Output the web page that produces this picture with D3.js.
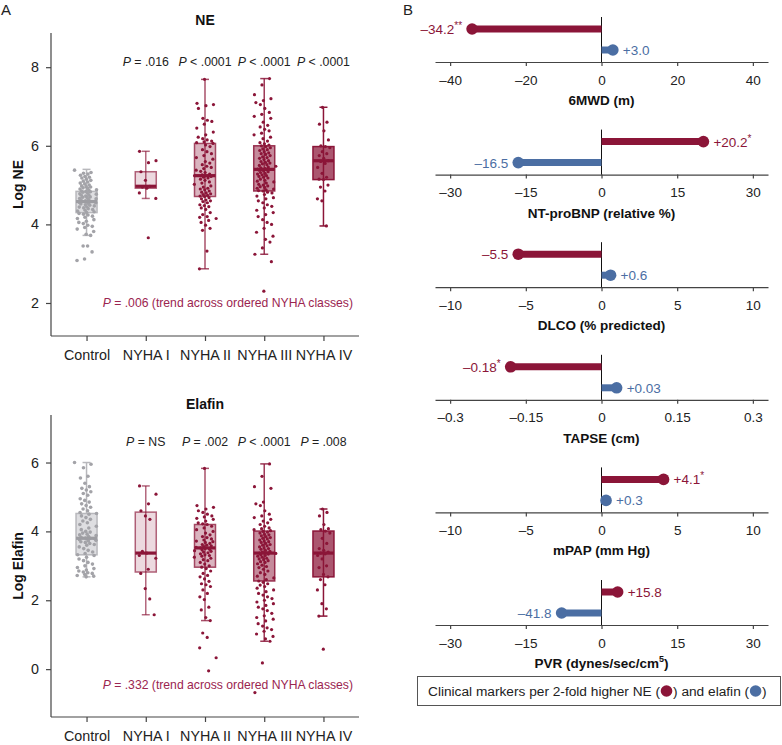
<!DOCTYPE html>
<html>
<head>
<meta charset="utf-8">
<script src="https://cdn.jsdelivr.net/npm/d3@7"></script>
<style>
  body { margin: 0; background: #fff; }
  svg { font-family: "Liberation Sans", Arial, sans-serif; }
</style>
</head>
<body>
<svg id="chart" width="782" height="745"></svg>
<script>
// ---------- data: panel A ----------
const groups = ["Control", "NYHA I", "NYHA II", "NYHA III", "NYHA IV"]

// box stats: [low whisker, q1, median, q3, high whisker]
const neBoxes = [
  [3.72, 4.30, 4.58, 4.84, 5.40],
  [4.66, 4.92, 4.97, 5.34, 5.86],
  [2.87, 4.71, 5.24, 6.06, 7.69],
  [3.24, 4.85, 5.40, 6.00, 7.71],
  [3.96, 5.14, 5.62, 5.98, 6.98]
]
const elafinBoxes = [
  [2.68, 3.32, 3.80, 4.52, 6.00],
  [1.58, 2.82, 3.37, 4.56, 5.32],
  [1.41, 2.96, 3.52, 4.20, 5.83],
  [0.81, 2.56, 3.37, 4.01, 5.96],
  [1.54, 2.68, 3.37, 4.01, 4.65]
]

// individual observations (estimated)
const nePoints = [
  "5.38 5.32 5.30 5.28 5.25 5.22 5.20 5.18 5.15 5.12 5.10 5.08 5.05 5.03 5.00 4.98 4.96 4.95 4.93 4.92 4.90 4.88 4.87 4.85 4.84 4.83 4.82 4.80 4.78 4.77 4.75 4.74 4.72 4.70 4.69 4.68 4.66 4.65 4.63 4.62 4.60 4.59 4.58 4.57 4.56 4.55 4.53 4.52 4.50 4.49 4.47 4.45 4.44 4.42 4.40 4.38 4.36 4.34 4.32 4.30 4.28 4.26 4.24 4.21 4.18 4.15 4.12 4.08 4.05 4.02 3.98 3.95 3.92 3.88 3.82 3.75 3.72 3.45 3.45 3.30 3.12 3.08",
  "5.86 5.62 5.57 5.34 5.12 4.97 4.95 4.92 4.80 4.66 3.66",
  "7.69 7.08 7.05 7.02 6.95 6.70 6.65 6.62 6.55 6.45 6.35 6.28 6.22 6.18 6.15 6.12 6.10 6.08 6.06 6.02 5.98 5.90 5.85 5.80 5.75 5.70 5.66 5.60 5.56 5.52 5.48 5.45 5.42 5.38 5.35 5.32 5.28 5.26 5.24 5.22 5.20 5.18 5.15 5.12 5.08 5.05 5.02 4.98 4.95 4.92 4.90 4.88 4.85 4.82 4.80 4.78 4.76 4.74 4.72 4.71 4.68 4.65 4.62 4.60 4.58 4.55 4.50 4.48 4.45 4.42 4.38 4.30 4.25 4.20 4.18 4.15 4.10 4.05 3.98 3.90 3.85 3.32 2.87",
  "7.71 7.55 7.30 7.20 7.15 7.10 7.05 6.95 6.85 6.80 6.75 6.70 6.60 6.52 6.48 6.42 6.38 6.32 6.28 6.22 6.18 6.12 6.08 6.05 6.02 6.00 5.98 5.95 5.92 5.90 5.88 5.85 5.82 5.80 5.78 5.75 5.72 5.70 5.68 5.65 5.62 5.60 5.58 5.56 5.54 5.52 5.50 5.48 5.46 5.44 5.42 5.41 5.40 5.39 5.38 5.36 5.34 5.32 5.30 5.28 5.26 5.24 5.22 5.20 5.18 5.15 5.12 5.10 5.08 5.05 5.02 5.00 4.98 4.96 4.94 4.92 4.90 4.88 4.86 4.85 4.82 4.80 4.76 4.72 4.68 4.65 4.60 4.55 4.50 4.46 4.42 4.36 4.30 4.25 4.20 4.12 4.05 4.00 3.90 3.80 3.70 3.62 3.55 3.40 3.24 3.05 2.30",
  "6.98 6.60 6.55 6.38 6.15 6.00 5.98 5.95 5.85 5.80 5.75 5.68 5.62 5.60 5.55 5.45 5.30 5.20 5.15 5.14 5.00 4.95 4.85 4.65 4.60 3.96"
]
const elafinPoints = [
  "6.00 5.95 5.85 5.60 5.55 5.40 5.30 5.25 5.20 5.15 5.10 5.05 4.95 4.90 4.85 4.80 4.75 4.70 4.65 4.60 4.55 4.52 4.50 4.45 4.40 4.35 4.30 4.25 4.20 4.15 4.10 4.05 4.00 3.98 3.95 3.92 3.90 3.88 3.85 3.83 3.81 3.80 3.79 3.78 3.76 3.74 3.72 3.70 3.68 3.65 3.62 3.60 3.55 3.50 3.45 3.40 3.36 3.32 3.30 3.25 3.20 3.15 3.10 3.05 3.00 2.95 2.92 2.88 2.85 2.82 2.80 2.78 2.75 2.72 2.70 2.68",
  "5.32 5.08 4.80 4.60 4.45 4.35 3.42 3.37 3.30 3.22 2.90 2.78 2.34 2.04 1.58",
  "5.83 4.75 4.70 4.65 4.60 4.55 4.50 4.45 4.42 4.38 4.35 4.30 4.25 4.22 4.20 4.15 4.10 4.05 4.00 3.95 3.90 3.85 3.82 3.78 3.75 3.72 3.70 3.68 3.65 3.62 3.60 3.58 3.56 3.54 3.52 3.50 3.48 3.46 3.44 3.42 3.40 3.38 3.35 3.32 3.30 3.28 3.25 3.22 3.18 3.15 3.10 3.05 3.00 2.96 2.92 2.85 2.78 2.72 2.68 2.62 2.55 2.48 2.45 2.40 2.30 2.20 2.10 2.02 1.80 1.72 1.50 1.41 1.05 0.92 0.62 0.33 -0.05",
  "5.96 5.60 5.30 5.25 4.85 4.80 4.75 4.60 4.50 4.45 4.40 4.35 4.30 4.25 4.20 4.15 4.10 4.08 4.05 4.02 4.00 3.98 3.95 3.92 3.90 3.87 3.85 3.82 3.80 3.78 3.75 3.72 3.70 3.68 3.65 3.62 3.60 3.58 3.55 3.52 3.50 3.48 3.45 3.42 3.40 3.38 3.37 3.36 3.34 3.32 3.30 3.28 3.25 3.22 3.20 3.18 3.15 3.12 3.10 3.06 3.02 2.98 2.95 2.90 2.85 2.80 2.75 2.70 2.65 2.60 2.56 2.52 2.48 2.44 2.40 2.35 2.30 2.25 2.20 2.15 2.10 2.05 2.00 1.95 1.90 1.85 1.80 1.75 1.70 1.62 1.55 1.50 1.45 1.40 1.32 1.25 1.20 1.15 1.10 1.02 0.95 0.88 0.81 0.18 -0.68",
  "4.65 4.55 4.45 4.20 4.08 4.05 4.01 3.95 3.80 3.65 3.50 3.45 3.40 3.37 3.35 3.30 3.20 3.00 2.95 2.75 2.68 2.60 2.45 2.30 1.90 1.75 1.54 0.58"
]

const nePvals = ["", " = .016", " < .0001", " < .0001", " < .0001"]
const elafinPvals = ["", " = NS", " = .002", " < .0001", " = .008"]
const neTicks = [2, 4, 6, 8]
const elafinTicks = [0, 2, 4, 6]

// ---------- data: panel B ----------
const markers = ["6MWD (m)", "NT-proBNP (relative %)", "DLCO (% predicted)", "TAPSE (cm)", "mPAP (mm Hg)", "PVR (dynes/sec/cm"]
const markerTicks = [
  [-40, -20, 0, 20, 40],
  [-30, -15, 0, 15, 30],
  [-10, -5, 0, 5, 10],
  [-0.3, -0.15, 0, 0.15, 0.3],
  [-10, -5, 0, 5, 10],
  [-30, -15, 0, 15, 30]
]
const neValues = [-34.2, 20.2, -5.5, -0.18, 4.1, 3.2]
const neLabels = ["–34.2", "+20.2", "–5.5", "–0.18", "+4.1", "+15.8"]
const neStars = ["**", "*", "", "*", "*", ""]
const elafinValues = [3.0, -16.5, 0.6, 0.03, 0.3, -7.9]
const elafinLabels = ["+3.0", "–16.5", "+0.6", "+0.03", "+0.3", "–41.8"]

// ---------- styling ----------
const red = "#8b1538"
const blue = "#4b6ea3"
const grayPt = "#a3a3a8"
const boxFillOpacity = [0, 0.16, 0.32, 0.5, 0.72]
const boxStrokeOpacity = [0, 0.65, 0.75, 0.85, 1]
const font = "'Liberation Sans', Arial, sans-serif"

const svg = d3.select("#chart")

svg.append("text").attr("x", 1).attr("y", 15).attr("font-size", 15).attr("fill", "#222").text("A")
svg.append("text").attr("x", 403).attr("y", 15).attr("font-size", 15).attr("fill", "#222").text("B")

function drawBoxPanel(cfg) {
  const g = svg.append("g")
  const x = d3.scalePoint().domain(groups).range([51, 359]).padding(0.6)
  const y = d3.scaleLinear().domain(cfg.domain).range([cfg.bottom, cfg.top])

  g.append("text")
    .attr("x", 205).attr("y", cfg.titleY)
    .attr("text-anchor", "middle").attr("font-size", 14).attr("font-weight", "bold")
    .attr("fill", "#111").text(cfg.title)

  // axes
  const yAxis = g.append("g").attr("transform", "translate(51,0)")
    .call(d3.axisLeft(y).tickValues(cfg.ticks).tickSize(5).tickPadding(7).tickSizeOuter(0))
  const xAxis = g.append("g").attr("transform", `translate(0,${cfg.bottom})`)
    .call(d3.axisBottom(x).tickSize(5).tickPadding(9).tickSizeOuter(0))
  xAxis.select(".domain").attr("d", `M51,0H359`)
  yAxis.select(".domain").attr("d", `M0,${cfg.top}V${cfg.bottom}`)
  ;[xAxis, yAxis].forEach(a => {
    a.selectAll("path, line").attr("stroke", "#444").attr("stroke-width", 1.2)
    a.selectAll("text").attr("font-size", 14.3).attr("fill", "#222").attr("font-family", font)
  })

  g.append("text")
    .attr("transform", `translate(23,${(cfg.top + cfg.bottom) / 2}) rotate(-90)`)
    .attr("text-anchor", "middle").attr("font-size", 14).attr("font-weight", "bold")
    .attr("fill", "#111").text(cfg.ylabel)

  const boxW = 21
  groups.forEach((grp, i) => {
    const cx = x(grp)
    const [lo, q1, med, q3, hi] = cfg.boxes[i]
    const isCtrl = i === 0
    const strokeCol = isCtrl ? "#b8b8bc" : red
    const sOp = isCtrl ? 1 : boxStrokeOpacity[i]

    // whisker
    g.append("line").attr("x1", cx).attr("x2", cx).attr("y1", y(hi)).attr("y2", y(lo))
      .attr("stroke", strokeCol).attr("stroke-opacity", sOp).attr("stroke-width", 1.5)
    ;[lo, hi].forEach(v => {
      g.append("line").attr("x1", cx - 4).attr("x2", cx + 4).attr("y1", y(v)).attr("y2", y(v))
        .attr("stroke", strokeCol).attr("stroke-opacity", sOp).attr("stroke-width", 1.5)
    })
    // box
    g.append("rect")
      .attr("x", cx - boxW / 2).attr("width", boxW)
      .attr("y", y(q3)).attr("height", y(q1) - y(q3))
      .attr("fill", isCtrl ? "#dedee1" : red)
      .attr("fill-opacity", isCtrl ? 1 : boxFillOpacity[i])
      .attr("stroke", strokeCol).attr("stroke-opacity", sOp).attr("stroke-width", 1.5)

    // points, spread sideways with a fixed low-discrepancy jitter
    const vals = cfg.points[i].split(" ").map(Number)
    g.append("g").selectAll("circle").data(vals).join("circle")
      .attr("cx", (d, j) => {
        const a = (j * 0.618034 + 0.31 * i) % 1
        const b = (j * 0.754878 + 0.17 * i) % 1
        return cx + ((a + b) / 2 - 0.5) * 24
      })
      .attr("cy", d => y(d))
      .attr("r", isCtrl ? 1.8 : 1.6)
      .attr("fill", isCtrl ? grayPt : red)

    // median
    g.append("line").attr("x1", cx - boxW / 2).attr("x2", cx + boxW / 2)
      .attr("y1", y(med)).attr("y2", y(med))
      .attr("stroke", isCtrl ? "#9d9da2" : red).attr("stroke-width", 3.2)

    // p value
    if (cfg.pvals[i]) {
      const t = g.append("text").attr("x", cx).attr("y", cfg.pY)
        .attr("text-anchor", "middle").attr("font-size", 12.3).attr("fill", "#222")
      t.append("tspan").attr("font-style", "italic").text("P")
      t.append("tspan").text(cfg.pvals[i])
    }
  })

  const tr = g.append("text").attr("x", 353).attr("y", y(cfg.trendAt))
    .attr("text-anchor", "end").attr("font-size", 12.2).attr("fill", "#9b2550")
  tr.append("tspan").attr("font-style", "italic").text("P")
  tr.append("tspan").text(cfg.trend)
}

drawBoxPanel({
  title: "NE", ylabel: "Log NE", top: 33, bottom: 336, titleY: 25,
  domain: [1.16, 8.87], ticks: neTicks, boxes: neBoxes, points: nePoints,
  pvals: nePvals, pY: 66, trendAt: 1.9,
  trend: " = .006 (trend across ordered NYHA classes)"
})
drawBoxPanel({
  title: "Elafin", ylabel: "Log Elafin", top: 415, bottom: 717, titleY: 409,
  domain: [-1.39, 7.38], ticks: elafinTicks, boxes: elafinBoxes, points: elafinPoints,
  pvals: elafinPvals, pY: 446, trendAt: -0.58,
  trend: " = .332 (trend across ordered NYHA classes)"
})

// ---------- panel B ----------
markers.forEach((m, i) => {
  const axisY = 62 + i * 112.6
  const maxT = markerTicks[i][4]
  const x = d3.scaleLinear().domain([-maxT * 1.1, maxT * 1.1]).range([435, 768])
  const g = svg.append("g")

  const ax = g.append("g").attr("transform", `translate(0,${axisY})`)
    .call(d3.axisBottom(x).tickValues(markerTicks[i]).tickSize(4).tickPadding(9).tickSizeOuter(0)
      .tickFormat(d => d === 0 ? "0" : (d < 0 ? "–" : "") + String(Math.abs(d))))
  ax.selectAll("path, line").attr("stroke", "#444").attr("stroke-width", 1.2)
  ax.selectAll("text").attr("font-size", 13.5).attr("fill", "#222").attr("font-family", font)

  // zero line
  g.append("line").attr("x1", x(0)).attr("x2", x(0))
    .attr("y1", axisY - 45).attr("y2", axisY).attr("stroke", "#111").attr("stroke-width", 1)

  const rows = [
    { v: neValues[i], lab: neLabels[i], star: neStars[i], col: red, yy: axisY - 33 },
    { v: elafinValues[i], lab: elafinLabels[i], star: "", col: blue, yy: axisY - 12 }
  ]
  rows.forEach(r => {
    g.append("line").attr("x1", x(0)).attr("x2", x(r.v)).attr("y1", r.yy).attr("y2", r.yy)
      .attr("stroke", r.col).attr("stroke-width", 7)
    g.append("circle").attr("cx", x(r.v)).attr("cy", r.yy).attr("r", 5.8).attr("fill", r.col)
    const neg = r.v < 0
    const t = g.append("text")
      .attr("x", x(r.v) + (neg ? -10 : 10)).attr("y", r.yy + 5)
      .attr("text-anchor", neg ? "end" : "start")
      .attr("font-size", 13.5).attr("fill", r.col)
    t.append("tspan").text(r.lab)
    if (r.star) t.append("tspan").attr("font-size", 10).attr("dy", -5).text(r.star)
  })

  const title = g.append("text").attr("x", x(0)).attr("y", axisY + 43)
    .attr("text-anchor", "middle").attr("font-size", 13.5).attr("font-weight", "bold").attr("fill", "#111")
  title.append("tspan").text(m)
  if (i === 5) {
    title.append("tspan").attr("font-size", 9).attr("dy", -6).text("5")
    title.append("tspan").attr("dy", 6).text(")")
  }
})

// legend
const lg = svg.append("g")
lg.append("rect").attr("x", 417.5).attr("y", 676.5).attr("width", 363).attr("height", 29)
  .attr("fill", "#fff").attr("stroke", "#555").attr("stroke-width", 1)
const lt = lg.append("text").attr("x", 428).attr("y", 695.5).attr("font-size", 13.7).attr("fill", "#222")
lt.append("tspan").text("Clinical markers per 2-fold higher NE (")
lt.append("tspan").attr("dx", 13).text(") and elafin (")
lt.append("tspan").attr("dx", 13).text(")")
// place legend dots after measuring text
const spans = lt.selectAll("tspan").nodes()
const e1 = spans[0].getComputedTextLength()
const e2 = spans[1].getComputedTextLength()
lg.append("circle").attr("cx", 428 + e1 + 6.5).attr("cy", 691).attr("r", 5.8).attr("fill", red)
lg.append("circle").attr("cx", 428 + e1 + 13 + e2 + 6.5).attr("cy", 691).attr("r", 5.8).attr("fill", blue)
</script>
</body>
</html>
